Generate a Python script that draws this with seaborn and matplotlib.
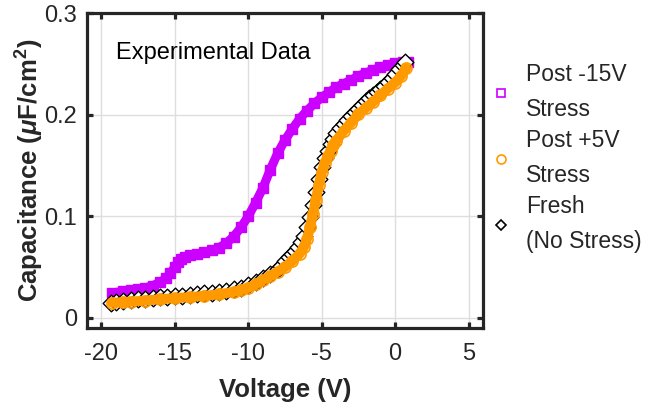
import numpy as np
import pandas as pd
import matplotlib
matplotlib.use("Agg")
import matplotlib.pyplot as plt
from matplotlib.lines import Line2D
import seaborn as sns

# ---------------- data ----------------
v_neg15 = [-19.3, -18.5, -18.0, -17.5, -17.0, -16.5, -16.0, -15.6, -15.3, -15.0,
           -14.8, -14.6, -14.3, -14.0, -13.5, -13.0, -12.5, -12.0, -11.5, -11.0,
           -10.5, -10.0, -9.5, -9.0, -8.5, -8.0, -7.5, -7.0, -6.5, -6.0,
           -5.5, -5.0, -4.5, -4.0, -3.5, -3.0, -2.5, -2.0, -1.5, -1.0,
           -0.5, 0.0, 0.5, 0.85]
c_neg15 = [0.0245, 0.0260, 0.0270, 0.0282, 0.0295, 0.0318, 0.0350, 0.0390, 0.0440, 0.0500,
           0.0550, 0.0580, 0.0600, 0.0615, 0.0630, 0.0645, 0.0665, 0.0690, 0.0735, 0.0800,
           0.0890, 0.1000, 0.1135, 0.1280, 0.1460, 0.1620, 0.1750, 0.1860, 0.1960, 0.2040,
           0.2110, 0.2170, 0.2220, 0.2270, 0.2305, 0.2340, 0.2380, 0.2410, 0.2440, 0.2465,
           0.2490, 0.2505, 0.2515, 0.2520]

v_pos5 = [-19.25, -18.5, -18.0, -17.0, -16.0, -15.0, -14.0, -13.0, -12.0, -11.0,
          -10.5, -10.0, -9.5, -9.0, -8.5, -8.0, -7.5, -7.0, -6.5, -6.2,
          -6.0, -5.8, -5.6, -5.4, -5.2, -5.0, -4.8, -4.6, -4.4, -4.2,
          -4.0, -3.5, -3.0, -2.5, -2.0, -1.5, -1.0, -0.5, 0.0, 0.4, 0.75]
c_pos5 = [0.0148, 0.0155, 0.0160, 0.0170, 0.0184, 0.0194, 0.0204, 0.0216, 0.0232, 0.0255,
          0.0272, 0.0295, 0.0330, 0.0372, 0.0410, 0.0455, 0.0500, 0.0560, 0.0630, 0.0700,
          0.0780, 0.0890, 0.1020, 0.1160, 0.1310, 0.1435, 0.1520, 0.1590, 0.1645, 0.1700,
          0.1745, 0.1840, 0.1920, 0.2005, 0.2065, 0.2125, 0.2190, 0.2255, 0.2315, 0.2380, 0.2455]

v_fresh = [-19.35, -19.0, -18.5, -18.0, -17.5, -17.0, -16.5, -16.0, -15.5, -15.0,
           -14.5, -14.0, -13.5, -13.0, -12.5, -12.0, -11.5, -11.0, -10.5, -10.0,
           -9.5, -9.0, -8.5, -8.0, -7.75, -7.5, -7.25, -7.0, -6.8, -6.6,
           -6.4, -6.2, -6.0, -5.8, -5.6, -5.4, -5.2, -5.0, -4.8, -4.6,
           -4.4, -4.2, -4.0, -3.75, -3.5, -3.25, -3.0, -2.75, -2.5, -2.25,
           -2.0, -1.75, -1.5, -1.25, -1.0, -0.75, -0.5, -0.25, 0.0, 0.25,
           0.5, 0.65]
c_fresh = [0.0150, 0.0160, 0.0168, 0.0175, 0.0182, 0.0190, 0.0196, 0.0202, 0.0208, 0.0214,
           0.0220, 0.0226, 0.0233, 0.0240, 0.0248, 0.0257, 0.0267, 0.0280, 0.0298, 0.0320,
           0.0350, 0.0390, 0.0435, 0.0480, 0.0515, 0.0560, 0.0600, 0.0630, 0.0660, 0.0700,
           0.0750, 0.0810, 0.0890, 0.0990, 0.1110, 0.1240, 0.1370, 0.1480, 0.1570, 0.1645,
           0.1710, 0.1765, 0.1815, 0.1865, 0.1910, 0.1950, 0.1990, 0.2025, 0.2060, 0.2095,
           0.2130, 0.2160, 0.2190, 0.2220, 0.2250, 0.2285, 0.2320, 0.2360, 0.2400, 0.2445,
           0.2490, 0.2520]

series_labels = ["Post -15V\nStress", "Post +5V\nStress", "Fresh\n(No Stress)"]
x_ticks = [-20, -15, -10, -5, 0, 5]
x_ticklabels = ["-20", "-15", "-10", "-5", "0", "5"]
y_ticks = [0, 0.1, 0.2, 0.3]
y_ticklabels = ["0", "0.1", "0.2", "0.3"]

PURPLE = "#CC00FF"
ORANGE = "#FF9900"
DARK = "#262626"

# ---------------- style ----------------
sns.set_theme(style="ticks")
plt.rcParams["font.family"] = ["Liberation Sans", "DejaVu Sans"]
plt.rcParams["axes.unicode_minus"] = False
plt.rcParams["mathtext.fontset"] = "custom"
plt.rcParams["mathtext.rm"] = "Liberation Sans:bold"
plt.rcParams["mathtext.bf"] = "Liberation Sans:bold"
plt.rcParams["mathtext.it"] = "Liberation Sans:italic:bold"

W, H = 647, 407
fig = plt.figure(figsize=(W / 100, H / 100), dpi=100)
ax = fig.add_axes([0.134, 0.194, 0.613, 0.774])

df_p = pd.DataFrame({"V": v_neg15, "C": c_neg15})
df_o = pd.DataFrame({"V": v_pos5, "C": c_pos5})
df_f = pd.DataFrame({"V": v_fresh, "C": c_fresh})

sns.lineplot(data=df_p, x="V", y="C", sort=False, estimator=None, ax=ax,
             color=PURPLE, linewidth=6.5, marker="s", markersize=6.5,
             markeredgecolor=PURPLE, markerfacecolor=PURPLE, markeredgewidth=1.0,
             solid_joinstyle="round", solid_capstyle="butt", zorder=3)
sns.scatterplot(data=df_f, x="V", y="C", ax=ax, marker="D", s=72,
                facecolor="white", edgecolor="black", linewidth=1.0, zorder=4)
sns.lineplot(data=df_o, x="V", y="C", sort=False, estimator=None, ax=ax,
             color=ORANGE, linewidth=7.2, marker="o", markersize=8,
             markeredgecolor=ORANGE, markerfacecolor="none", markeredgewidth=1.2,
             solid_joinstyle="round", solid_capstyle="round", zorder=5)

ax.text(-18.98, 0.261, "Experimental Data", fontsize=17, ha="left", va="center",
        color="black", zorder=6)

ax.set_xlim(-21, 6)
ax.set_ylim(-0.01, 0.3)
ax.set_xticks(x_ticks)
ax.set_xticklabels(x_ticklabels)
ax.set_yticks(y_ticks)
ax.set_yticklabels(y_ticklabels)
ax.grid(True, color="#dedede", linewidth=1.0)
ax.set_axisbelow(True)
for s in ax.spines.values():
    s.set_visible(True)
    s.set_linewidth(2.3)
    s.set_color(DARK)
ax.tick_params(axis="both", direction="in", length=4.5, width=2.3, color=DARK,
               top=True, right=True, labelsize=17, labelcolor=DARK)
ax.tick_params(axis="x", pad=11)
ax.tick_params(axis="y", pad=7)

ax.set_xlabel("Voltage (V)", fontsize=18.5, fontweight="bold", color=DARK, labelpad=9)
ax.set_ylabel(r"Capacitance ($\mu$F/cm$^2$)", fontsize=18.5, fontweight="bold",
              color=DARK, labelpad=-1)

handles = [
    Line2D([], [], ls="none", marker="s", markersize=6, markerfacecolor="none",
           markeredgecolor=PURPLE, markeredgewidth=1.2),
    Line2D([], [], ls="none", marker="o", markersize=6.5, markerfacecolor="none",
           markeredgecolor=ORANGE, markeredgewidth=1.2),
    Line2D([], [], ls="none", marker="D", markersize=5.5, markerfacecolor="none",
           markeredgecolor="black", markeredgewidth=1.2),
]
leg = fig.legend(handles, series_labels, loc="upper left",
                 bbox_to_anchor=(492 / W, 1 - 63 / H), bbox_transform=fig.transFigure,
                 frameon=False, fontsize=16.5, handlelength=0.8, handletextpad=0.7,
                 labelspacing=0.36, borderpad=0, borderaxespad=0)
for t in leg.get_texts():
    t.set_linespacing(1.66)

fig.savefig("out.png", dpi=100)
